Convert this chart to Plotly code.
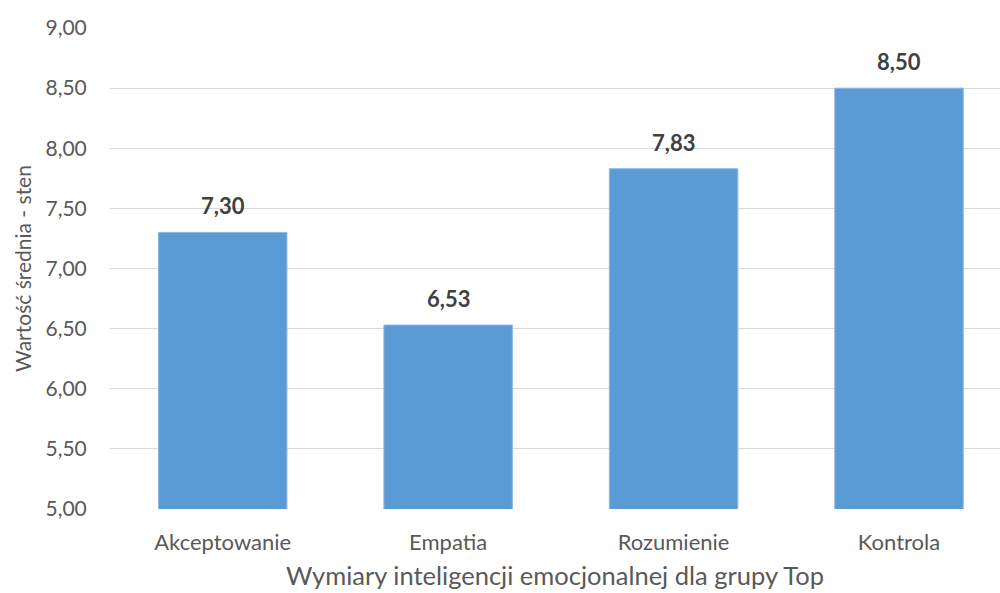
import plotly.graph_objects as go

categories = ["Akceptowanie", "Empatia", "Rozumienie", "Kontrola"]
values = [7.30, 6.53, 7.83, 8.50]
y_ticks = [5.0, 5.5, 6.0, 6.5, 7.0, 7.5, 8.0, 8.5, 9.0]
y_tick_labels = ["5,00", "5,50", "6,00", "6,50", "7,00", "7,50", "8,00", "8,50", "9,00"]

FONT = "Lato"
BAR_COLOR = "#5B9BD5"

def fmt(v):
    return f"{v:.2f}".replace(".", ",")

fig = go.Figure()
fig.add_trace(go.Bar(
    x=list(range(len(categories))),
    y=values,
    base=0,
    width=0.57,
    marker=dict(color=BAR_COLOR, line=dict(color="#8DB8E3", width=1)),
    hoverinfo="skip",
))

for i, v in enumerate(values):
    fig.add_annotation(
        x=i, y=v, text=f"<b>{fmt(v)}</b>", showarrow=False,
        yanchor="bottom", yshift=11,
        font=dict(family=FONT, size=22, color="#404040"),
    )

fig.update_layout(
    width=1000, height=593,
    margin=dict(l=109.5, r=0, t=27.5, b=84.3),
    paper_bgcolor="white", plot_bgcolor="white",
    showlegend=False,
    font=dict(family=FONT, color="#595959"),
    xaxis=dict(
        range=[-0.5, 3.448],
        tickmode="array",
        tickvals=list(range(len(categories))),
        ticktext=categories,
        tickfont=dict(family=FONT, size=22, color="#595959"),
        showgrid=False, zeroline=False, showline=False,
        ticks="outside", ticklen=14, tickcolor="rgba(0,0,0,0)",
        title=dict(text="Wymiary inteligencji emocjonalnej dla grupy Top",
                   font=dict(family=FONT, size=25.5, color="#595959"),
                   standoff=12),
        fixedrange=True,
    ),
    yaxis=dict(
        range=[5, 9],
        tickmode="array",
        tickvals=y_ticks,
        ticktext=y_tick_labels,
        tickfont=dict(family=FONT, size=21, color="#595959"),
        showgrid=True, gridcolor="#D9D9D9", gridwidth=1.3,
        zeroline=False, showline=False,
        ticks="outside", ticklen=18, tickcolor="rgba(0,0,0,0)",
        title=dict(text="Wartość średnia - sten",
                   font=dict(family=FONT, size=21, color="#595959"),
                   standoff=8),
        fixedrange=True,
    ),
)

fig.write_html("out.html")
